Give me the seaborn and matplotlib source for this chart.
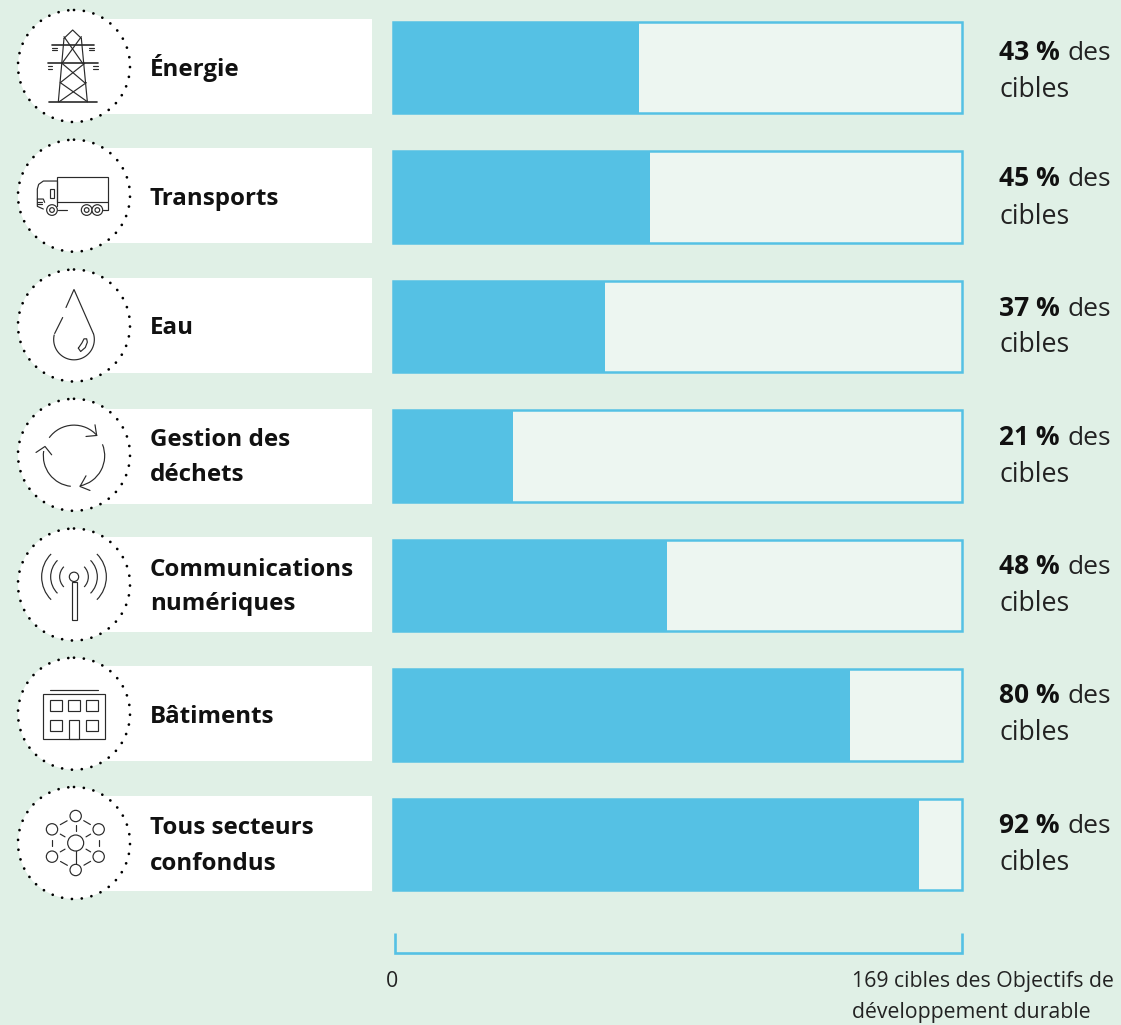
#!/usr/bin/env python3
"""Part of the 169 SDG targets influenced by each infrastructure sector."""

import numpy as np
import matplotlib
matplotlib.use("Agg")
import matplotlib.pyplot as plt
from matplotlib.patches import Arc, Circle, Rectangle
import seaborn as sns

sectors = ["Énergie", "Transports", "Eau", "Gestion des\ndéchets",
           "Communications\nnumériques", "Bâtiments", "Tous secteurs\nconfondus"]
shares = [43.2, 45.2, 37.3, 21.1, 48.2, 80.3, 92.4]
full_scale = [100] * 7
pct_labels = ["43 %", "45 %", "37 %", "21 %", "48 %", "80 %", "92 %"]

BG = "#E0F0E6"
BLUE = "#55C1E4"
PALE = "#EDF6F1"
INK = "#2A2A2A"
W, H = 1121, 1025
ROW0, STEP = 67.5, 129.5
ICON_LW = 0.85

sns.set_theme(style="white")
plt.rcParams["font.family"] = ["Open Sans", "DejaVu Sans"]

fig = plt.figure(figsize=(W / 100, H / 100), dpi=100, facecolor=BG)

# bars: x axis runs 0-100 %, rows are placed by the categorical axis
ax = fig.add_axes([393 / W, 0, 569 / W, 1])
sns.barplot(x=full_scale, y=sectors, orient="h", color=PALE, saturation=1,
            width=0.705, edgecolor=BLUE, linewidth=1.8, ax=ax)
sns.barplot(x=shares, y=sectors, orient="h", color=BLUE, saturation=1,
            width=0.705, linewidth=0, ax=ax)
ax.set_xlim(0, 100)
ax.set_ylim((H - ROW0) / STEP, -ROW0 / STEP)
ax.axis("off")
for bar in ax.patches:
    bar.set_clip_on(False)

# overlay in pixel coordinates for panels, icons and text
px = fig.add_axes([0, 0, 1, 1], zorder=3)
px.set_xlim(0, W)
px.set_ylim(H, 0)
px.axis("off")
px.patch.set_alpha(0)


def ln(cx, cy, xs, ys, lw=ICON_LW):
    # icon strokes, given in 3x zoom units around the circle centre
    px.plot(cx + np.array(xs) / 3, cy + np.array(ys) / 3, color=INK, lw=lw,
            solid_capstyle="round", solid_joinstyle="round", zorder=6)


def ring(cx, cy, x, y, r, lw=ICON_LW):
    px.add_patch(Circle((cx + x / 3, cy + y / 3), r / 3, fc="white", ec=INK, lw=lw, zorder=6))


def arc(cx, cy, x, y, w, h, a1, a2, lw=ICON_LW):
    px.add_patch(Arc((cx + x / 3, cy + y / 3), w / 3, h / 3, theta1=a1, theta2=a2,
                     color=INK, lw=lw, zorder=6))


def box(cx, cy, x, y, w, h, lw=ICON_LW):
    px.add_patch(Rectangle((cx + x / 3, cy + y / 3), w / 3, h / 3, fc="none", ec=INK, lw=lw, zorder=6))


def icon_tower(c, y):
    ln(c, y, [-30, -4, 22], [-83, -108, -83])
    ln(c, y, [-30, -47], [-83, 107])
    ln(c, y, [22, 40], [-83, 107])
    ln(c, y, [-65, 60], [-63, -63], 1.2)
    ln(c, y, [-79, 73], [-8, -8], 1.2)
    ln(c, y, [-75, 68], [107, 107], 1.2)
    ln(c, y, [-30, 26], [-88, -8])
    ln(c, y, [22, -36], [-88, -8])
    ln(c, y, [-36, 32], [-8, 50])
    ln(c, y, [32, -41], [-8, 50])
    ln(c, y, [-41, 40], [50, 107])
    ln(c, y, [37, -44], [50, 107])
    for dx in (-65, 46):
        ln(c, y, [dx, dx + 14], [-54, -54])
        ln(c, y, [dx, dx + 14], [-47, -47])
    for dx in (-79, 58):
        ln(c, y, [dx, dx + 14], [1, 1])
        ln(c, y, [dx, dx + 14], [8, 8])


def icon_truck(c, y):
    box(c, y, -50, -57, 153, 75)
    ln(c, y, [-50, -92, -106, -110, -110, -92, -92], [-44, -44, -34, -20, 32, 40, 40])
    ln(c, y, [-50, -50], [-44, 30])
    ln(c, y, [-110, -92, -88], [10, 10, 20])
    ln(c, y, [-110, -96], [18, 18])
    ln(c, y, [-110, -96], [26, 26])
    box(c, y, -72, -19, 12, 26)
    ln(c, y, [-48, -20], [43, 43])
    ln(c, y, [88, 103, 103], [43, 43, 18])
    for wx, r in ((-66, 16), (38, 16), (70, 16)):
        ring(c, y, wx, 43, r)
        ring(c, y, wx, 43, 7)


def icon_drop(c, y):
    th = np.radians(np.arange(-17, 198, 5))
    ln(c, y, [-24, 0, 58], [-54, -108, 24])
    ln(c, y, 61 * np.cos(th), 42 + 61 * np.sin(th))
    ln(c, y, [-58, -34], [24, -24])
    ln(c, y, [13, 20, 34, 40, 38, 30, 24, 13], [68, 78, 66, 50, 40, 40, 52, 68])


def icon_arrows(c, y):
    arc(c, y, 0, 3, 184, 184, 216, 319)
    arc(c, y, 0, 3, 184, 184, -22, 79)
    arc(c, y, 0, 3, 184, 184, 96, 189)
    ln(c, y, [36, 68, 63], [-55, -58, -90])
    ln(c, y, [36, 18, 48], [63, 95, 107])
    ln(c, y, [-114, -87, -67], [-7, -25, 0])


def icon_antenna(c, y):
    ring(c, y, 0, -23, 14)
    box(c, y, -7, -9, 15, 114)
    for d in (86, 140, 194):
        arc(c, y, 0, -23, d, d, -45, 45)
        arc(c, y, 0, -23, d, d, 135, 225)


def icon_building(c, y):
    ln(c, y, [-72, 72], [-72, -72])
    box(c, y, -92, -58, 186, 133)
    for bx, by in ((-72, -41), (-18, -41), (37, -41), (-72, 19), (37, 19)):
        box(c, y, bx, by, 36, 34)
    box(c, y, -14, 19, 30, 56)


def icon_network(c, y):
    nodes = [(5, -81), (74, -41), (74, 41), (5, 81), (-66, 41), (-66, -41)]
    ln(c, y, [5, 5], [20, 62])
    for i, (nx, ny) in enumerate(nodes):
        mx, my = nodes[(i + 1) % 6]
        a, b = (.38, .62) if nx == mx else (.35, .64)
        ln(c, y, [nx + (mx - nx) * a, nx + (mx - nx) * b], [ny + (my - ny) * a, ny + (my - ny) * b])
        if i != 3:
            ln(c, y, [5 + (nx - 5) * .45, 5 + (nx - 5) * .65], [ny * .45, ny * .65])
    ring(c, y, 5, 0, 24)
    for nx, ny in nodes:
        ring(c, y, nx, ny, 17)


icons = [icon_tower, icon_truck, icon_drop, icon_arrows, icon_antenna, icon_building, icon_network]
circle_y = [66, 195.7, 325.5, 454.8, 584.5, 713.7, 843]
panel_top = [19, 148, 278, 409, 537, 666, 796]
# the right-hand notes do not sit on a regular grid in the original
note_y1 = [60, 185.5, 315.5, 445, 574, 703, 833]
note_y2 = [97, 223.5, 352.5, 481.5, 611, 740, 870]
renderer = fig.canvas.get_renderer()

for i, name in enumerate(sectors):
    yc = ROW0 + STEP * i
    px.add_patch(Rectangle((74, panel_top[i]), 298, 95, fc="white", ec="none", zorder=2))
    cy = circle_y[i]
    px.add_patch(Circle((74, cy), 56, fc="white", ec="black", lw=2.0, capstyle="round",
                        ls=(0, (0.01, 3.55)), zorder=4))
    icons[i](74, cy)

    lines = name.split("\n")
    offs = [8] if len(lines) == 1 else [-10, 25]
    for line, off in zip(lines, offs):
        px.text(150, yc + off, line, fontsize=17.4, fontweight="bold", color="#111111",
                va="baseline", ha="left", zorder=7)

    t = px.text(999, note_y1[i], pct_labels[i], fontsize=19, fontweight="bold", color="#111111",
                va="baseline", ha="left", zorder=7)
    x_end = t.get_window_extent(renderer).x1
    px.text(x_end + 8, note_y1[i], "des", fontsize=19, color="#222222", va="baseline", ha="left", zorder=7)
    px.text(999.5, note_y2[i], "cibles", fontsize=19.2, color="#222222", va="baseline", ha="left", zorder=7)

# scale bracket
px.plot([394.5, 394.5, 962, 962], [933, 952.5, 952.5, 933], color=BLUE, lw=1.9,
        solid_joinstyle="miter", solid_capstyle="butt", zorder=5)
px.text(386, 987, "0", fontsize=15.3, color="#222222", va="baseline", ha="left")
px.text(852, 987, "169 cibles des Objectifs de", fontsize=15.3, color="#222222", va="baseline", ha="left")
px.text(852, 1018, "développement durable", fontsize=15.3, color="#222222", va="baseline", ha="left")

fig.savefig("out.png", dpi=100, facecolor=BG)
